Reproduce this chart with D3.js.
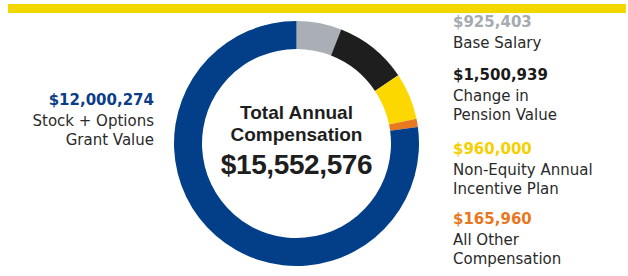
<!DOCTYPE html>
<html>
<head>
<meta charset="utf-8">
<script src="https://cdn.jsdelivr.net/npm/d3@7"></script>
<style>
  html, body { margin: 0; padding: 0; background: #fff; }
</style>
</head>
<body>
<div id="chart"></div>
<script>
// chart data
const categories = ["Base Salary", "Change in Pension Value", "Non-Equity Annual Incentive Plan", "All Other Compensation", "Stock + Options Grant Value"];
const values = [925403, 1500939, 960000, 165960, 12000274];
const colors = ["#a9afb5", "#1e1e1e", "#fcd700", "#e8791f", "#023f88"];
const labelColors = ["#a5abb0", "#1a1a1a", "#f5cf00", "#e8781f", "#0b3d88"];
// label text lines per category
const labelLines = [["Base Salary"], ["Change in", "Pension Value"], ["Non-Equity Annual", "Incentive Plan"], ["All Other", "Compensation"], ["Stock + Options", "Grant Value"]];

const width = 628;
const height = 276;

const svg = d3.select("#chart")
  .append("svg")
  .attr("width", width)
  .attr("height", height);

// yellow band at top
svg.append("rect")
  .attr("x", 8)
  .attr("y", 4)
  .attr("width", 618)
  .attr("height", 9)
  .attr("fill", "#f3d800");

// ── donut ──
const cx = 296.5, cy = 143.5;
const pie = d3.pie().sort(null).value(d => d);
const arc = d3.arc().innerRadius(94.5).outerRadius(122.5);

const g = svg.append("g").attr("transform", `translate(${cx},${cy})`);
g.selectAll("path")
  .data(pie(values))
  .join("path")
  .attr("d", arc)
  .attr("fill", (d, i) => colors[i]);

const fmt = d3.format(",");
const total = d3.sum(values);

// centre text
const centre = svg.append("g")
  .attr("font-family", "'Liberation Sans', Arial, sans-serif")
  .attr("font-weight", "bold")
  .attr("fill", "#1e1e1e")
  .attr("text-anchor", "middle");
centre.append("text").attr("x", cx).attr("y", 119).attr("font-size", "19px").text("Total Annual");
centre.append("text").attr("x", cx).attr("y", 141).attr("font-size", "19px").text("Compensation");
centre.append("text").attr("x", cx).attr("y", 174).attr("font-size", "28px")
  .attr("letter-spacing", "-0.4px").text("$" + fmt(total));

// ── labels ──
// right side: first four categories, left side: the last
const rightTops = [27, 80, 154, 224];
const lineGap = 19.3;

function label(x, y, anchor, i) {
  const t = svg.append("g")
    .attr("font-family", "'DejaVu Sans', Verdana, sans-serif")
    .attr("font-size", "15px")
    .attr("text-anchor", anchor);
  t.append("text")
    .attr("x", x).attr("y", y)
    .attr("font-weight", "bold")
    .attr("fill", labelColors[i])
    .text("$" + fmt(values[i]));
  labelLines[i].forEach((line, k) => {
    t.append("text")
      .attr("x", x).attr("y", y + 20.5 + k * lineGap)
      .attr("fill", "#2a2a2a")
      .text(line);
  });
}

rightTops.forEach((y, i) => label(453, y, "start", i));
label(154, 105, "end", 4);
</script>
</body>
</html>
